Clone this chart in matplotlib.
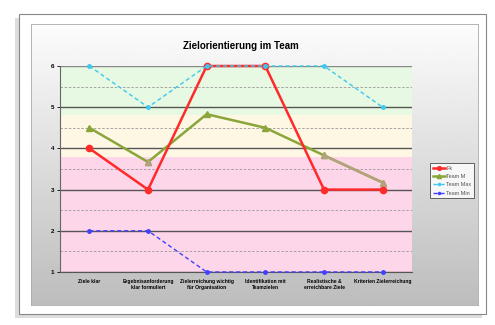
import matplotlib.pyplot as plt
import numpy as np
from matplotlib.patches import Rectangle

plt.rcParams['font.family'] = ['Liberation Sans', 'DejaVu Sans']

categories = ["Ziele klar", "Ergebnisanforderung\nklar formuliert",
              "Zielerreichung wichtig\nfür Organisation", "Identifikation mit\nTeamzielen",
              "Realistische &\nerreichbare Ziele", "Kriterien Zielerreichung"]
fk = [4, 3, 6, 6, 3, 3]
team_m = [4.5, 3.67, 4.83, 4.5, 3.83, 3.17]
team_max = [6, 5, 6, 6, 6, 5]
team_min = [2, 2, 1, 1, 1, 1]
band_edges = [1, 3.8, 4.8, 6]
band_colors = ["#fdd6ea", "#fdf7e4", "#e7f9e2"]
major_y = [1, 2, 3, 4, 5, 6]
minor_y = [1.5, 2.5, 3.5, 4.5, 5.5]

W, H = 495, 325
fig = plt.figure(figsize=(W / 100, H / 100), dpi=100)

def fx(px):
    return px / W

def fy(py):
    return 1 - py / H

# Karte mit Schatten
fig.patches.append(Rectangle((fx(15), fy(318)), fx(467), 300 / H, transform=fig.transFigure,
                             facecolor='#dddddd', edgecolor='none', zorder=-2))
fig.patches.append(Rectangle((fx(19), fy(314)), fx(467), 300 / H, transform=fig.transFigure,
                             facecolor='white', edgecolor='#888888', lw=0.8, zorder=-1))

# grauer Verlauf hinter dem Diagramm
bg = fig.add_axes([fx(31), fy(305), fx(447), 281 / H], zorder=0)
grad = np.linspace(0.99, 0.74, 200).reshape(-1, 1)
bg.imshow(grad, aspect='auto', cmap='gray', vmin=0, vmax=1, extent=[0, 1, 0, 1])
bg.set_xticks([])
bg.set_yticks([])
for s in bg.spines.values():
    s.set_color('#aaaaaa')
    s.set_linewidth(0.6)

ax = fig.add_axes([fx(60), fy(272), fx(352), 206 / H], zorder=1)
ax.patch.set_alpha(0)
x = np.arange(len(categories))
ax.set_xlim(-0.5, len(categories) - 0.5)
ax.set_ylim(1, 6)

for lo, hi, c in zip(band_edges[:-1], band_edges[1:], band_colors):
    ax.axhspan(lo, hi, color=c, zorder=0, lw=0)
for y in minor_y:
    ax.axhline(y, color='#999999', lw=0.6, ls=(0, (3, 2)), zorder=1)
for y in major_y:
    ax.axhline(y, color='#555555' if y < 6 else '#888888', lw=1.0, zorder=1)

ax.plot(x, team_m, color='#8aa63a', lw=1.8, marker='^', ms=5, label='Team M', zorder=3, clip_on=False)
ax.plot(x[4:], team_m[4:], color='#b3a27c', lw=1.8, zorder=3, clip_on=False)
ax.plot(x[[1, 4, 5]], np.array(team_m)[[1, 4, 5]], ls='none', marker='^', ms=5,
        color='#b3a27c', zorder=3, clip_on=False)
ax.plot(x, fk, color='#ff2a2a', lw=1.8, marker='o', ms=4.5, label='Fk', zorder=4, clip_on=False)
ax.plot(x, team_max, color='#3cc8f0', lw=1.0, ls=(0, (3, 2)), marker='o', ms=2.5,
        label='Team Max', zorder=5, clip_on=False)
ax.plot(x, team_min, color='#4040ff', lw=1.0, ls=(0, (3, 2)), marker='o', ms=2.5,
        label='Team Min', zorder=5, clip_on=False)

ax.set_yticks(major_y)
ax.set_yticklabels([str(v) for v in major_y], fontsize=4.5, fontweight='bold')
ax.set_xticks(x)
ax.set_xticklabels(categories, fontsize=3.6, fontweight='bold', linespacing=1.2)
ax.tick_params(axis='x', length=0, pad=5)
ax.tick_params(axis='y', length=2, width=0.6, pad=2)
for s in ['top', 'right']:
    ax.spines[s].set_visible(False)
ax.spines['left'].set_color('#666666')
ax.spines['bottom'].set_color('#555555')

handles, labels = ax.get_legend_handles_labels()
order = [labels.index(n) for n in ['Fk', 'Team M', 'Team Max', 'Team Min']]
leg = fig.legend([handles[i] for i in order], [labels[i] for i in order],
                 loc='upper left', bbox_to_anchor=(fx(427), fy(160)), fontsize=4,
                 frameon=True, fancybox=False, edgecolor='#222222', handlelength=2.2,
                 borderpad=0.5, labelspacing=0.6, handletextpad=0.3, markerscale=0.6)
leg.get_frame().set_linewidth(0.6)
for t in leg.get_texts():
    t.set_color('#555555')

fig.text(fx(241), fy(46), 'Zielorientierung im Team', ha='center', va='center',
         fontsize=7, fontweight='bold')

fig.savefig('out.png', dpi=100)
